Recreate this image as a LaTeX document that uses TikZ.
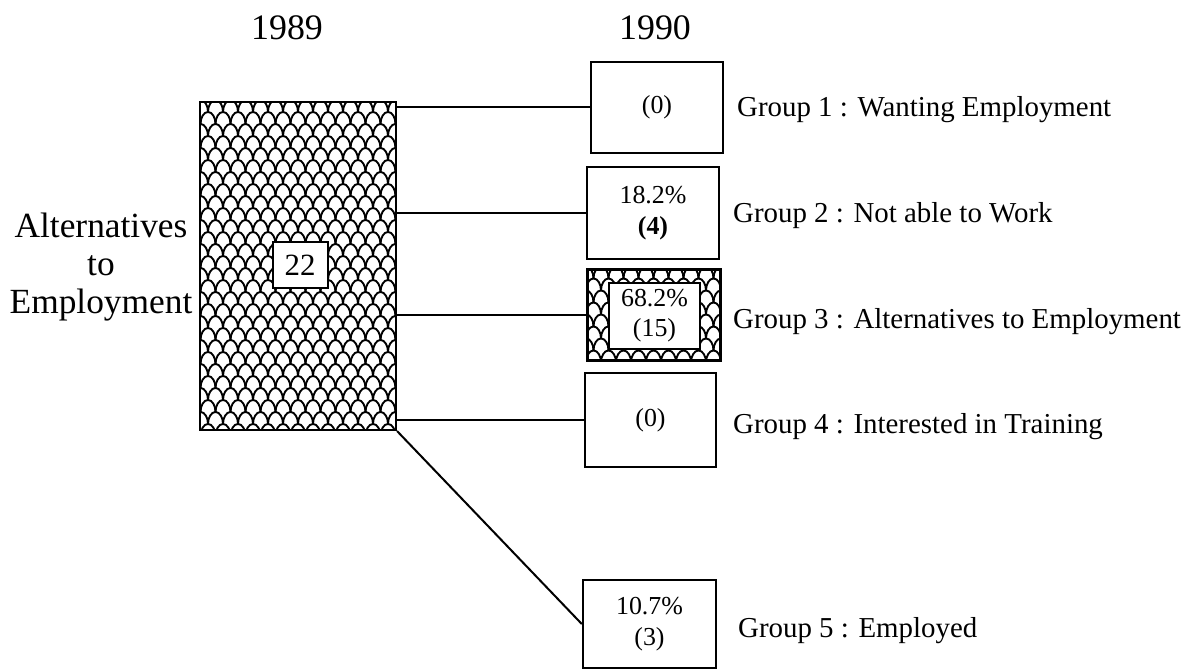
\documentclass[tikz,border=0pt]{standalone}
\usepackage{fontspec}
\setmainfont{Liberation Serif}
\begin{document}
\begin{tikzpicture}[x=1bp,y=-1bp,
  scalefill/.style 2 args={path picture={
      \foreach \r in {0,...,#1}{
        \foreach \c in {-8,...,8}{
          \pgfmathsetmacro\xo{\c*15+mod(\r,2)*7.5}
          \pgfmathsetmacro\yo{\r*12+10-#2}
          \draw[line width=1.9bp] (\xo,\yo) arc[start angle=180,end angle=360,x radius=7.5,y radius=12];
        }
      }}},
  gbox/.style={draw, line width=2.4bp, fill=white, inner sep=0pt, align=center,
    font=\fontsize{26}{31}\selectfont},
  conn/.style={line width=2bp},
  grp/.style={anchor=base west, inner sep=0pt, font=\fontsize{29}{34}\selectfont},
  year/.style={inner sep=0pt, font=\fontsize{36}{40}\selectfont}
]
\fill[white] (0,0) rectangle (1204,670);
\useasboundingbox (0,0) rectangle (1204,670);

% years
\node[year] (y89) at (287,28) {1989};
\node[year] (y90) at (655,28) {1990};

% 1989 box
\node[draw, line width=2.2bp, minimum width=196bp, minimum height=328bp, inner sep=0pt,
  scalefill={28}{164}] (big) at (298,266) {};
\node[draw, line width=2bp, fill=white, minimum width=55bp, minimum height=46bp,
  inner sep=0pt, font=\fontsize{31}{34}\selectfont] (n22) at (300,265) {22};
\node[inner sep=0pt, align=center, font=\fontsize{35.5}{38}\selectfont] (alt) at (101,267)
  {Alternatives\\to\\Employment};

% 1990 boxes
\node[gbox, minimum width=132bp, minimum height=91bp] (g1) at (657,107.5) {(0)};
\node[gbox, minimum width=132bp, minimum height=92bp] (g2) at (653,213) {18.2\%\\\textbf{(4)}};
\node[draw, line width=3bp, minimum width=133bp, minimum height=91bp, inner sep=0pt,
  scalefill={8}{46}] (g3) at (653.5,314.5) {};
\node[draw, line width=1.6bp, fill=white, minimum width=91bp, minimum height=66bp,
  inner sep=0pt, align=center, font=\fontsize{26}{30}\selectfont] (g3in) at (654.5,316)
  {68.2\%\\(15)};
\node[gbox, minimum width=131bp, minimum height=94bp] (g4) at (650.5,420) {(0)};
\node[gbox, minimum width=133bp, minimum height=88bp] (g5) at (649.5,624) {10.7\%\\(3)};

% connectors
\draw[conn] (big.east |- g1.west) -- (g1.west);
\draw[conn] (big.east |- g2.west) -- (g2.west);
\draw[conn] (big.east |- g3.west) -- (g3.west);
\draw[conn] (big.east |- g4.west) -- (g4.west);
\draw[conn] (big.south east) -- (g5.west);

% group labels
\node[grp] (l1) at (737,117) {Group 1 : Wanting Employment};
\node[grp] (l2) at (733,223) {Group 2 : Not able to Work};
\node[grp] (l3) at (733,328) {Group 3 : Alternatives to Employment};
\node[grp] (l4) at (733,433) {Group 4 : Interested in Training};
\node[grp] (l5) at (738,637) {Group 5 : Employed};
\end{tikzpicture}
\end{document}
